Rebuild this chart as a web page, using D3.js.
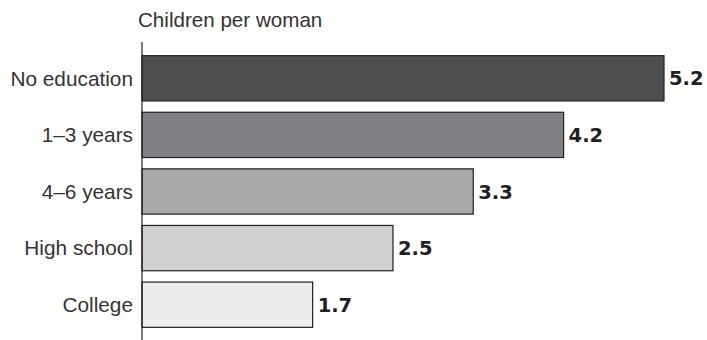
<!DOCTYPE html>
<html>
<head>
<meta charset="utf-8">
<script src="https://cdn.jsdelivr.net/npm/d3@7"></script>
<style>
  html, body { margin: 0; padding: 0; background: #fff; }
  svg { display: block; }
</style>
</head>
<body>
<svg id="chart" width="707" height="340"></svg>
<script>
const categories = ["No education", "1\u20133 years", "4\u20136 years", "High school", "College"];
const values = [5.2, 4.2, 3.3, 2.5, 1.7];
const valueLabels = ["5.2", "4.2", "3.3", "2.5", "1.7"];
const fills = ["#4d4e50", "#808184", "#a8a9ab", "#cfd0d2", "#ececed"];
const title = "Children per woman";

const svg = d3.select("#chart");
const x0 = 142;
const x = d3.scaleLinear().domain([0, 5.2]).range([x0, 664]);
const y = d3.scaleBand().domain(categories).range([50, 333]).paddingInner(0.2).paddingOuter(0.1);

svg.append("text")
  .attr("x", 138).attr("y", 27)
  .attr("font-family", "Liberation Sans, Arial, sans-serif")
  .attr("font-size", 20.6)
  .attr("fill", "#333")
  .text(title);

svg.selectAll("rect.bar").data(values).enter().append("rect")
  .attr("class", "bar")
  .attr("x", x(0))
  .attr("y", (d, i) => y(categories[i]))
  .attr("width", d => x(d) - x(0))
  .attr("height", y.bandwidth())
  .attr("fill", (d, i) => fills[i])
  .attr("stroke", "#231f20")
  .attr("stroke-width", 1.2);

svg.append("line")
  .attr("x1", x0).attr("x2", x0)
  .attr("y1", 42).attr("y2", 340)
  .attr("stroke", "#231f20").attr("stroke-width", 1.2);

svg.selectAll("text.cat").data(categories).enter().append("text")
  .attr("class", "cat")
  .attr("x", 133)
  .attr("y", d => y(d) + y.bandwidth() / 2)
  .attr("dy", "0.35em")
  .attr("text-anchor", "end")
  .attr("font-family", "Liberation Sans, Arial, sans-serif")
  .attr("font-size", 20.8)
  .attr("fill", "#333")
  .text(d => d);

svg.selectAll("text.val").data(values).enter().append("text")
  .attr("class", "val")
  .attr("x", d => x(d) + 5)
  .attr("y", (d, i) => y(categories[i]) + y.bandwidth() / 2)
  .attr("dy", "0.36em")
  .attr("font-family", "DejaVu Sans, sans-serif")
  .attr("font-weight", "bold")
  .attr("font-size", 19.5)
  .attr("fill", "#231f20")
  .text((d, i) => valueLabels[i]);
</script>
</body>
</html>
